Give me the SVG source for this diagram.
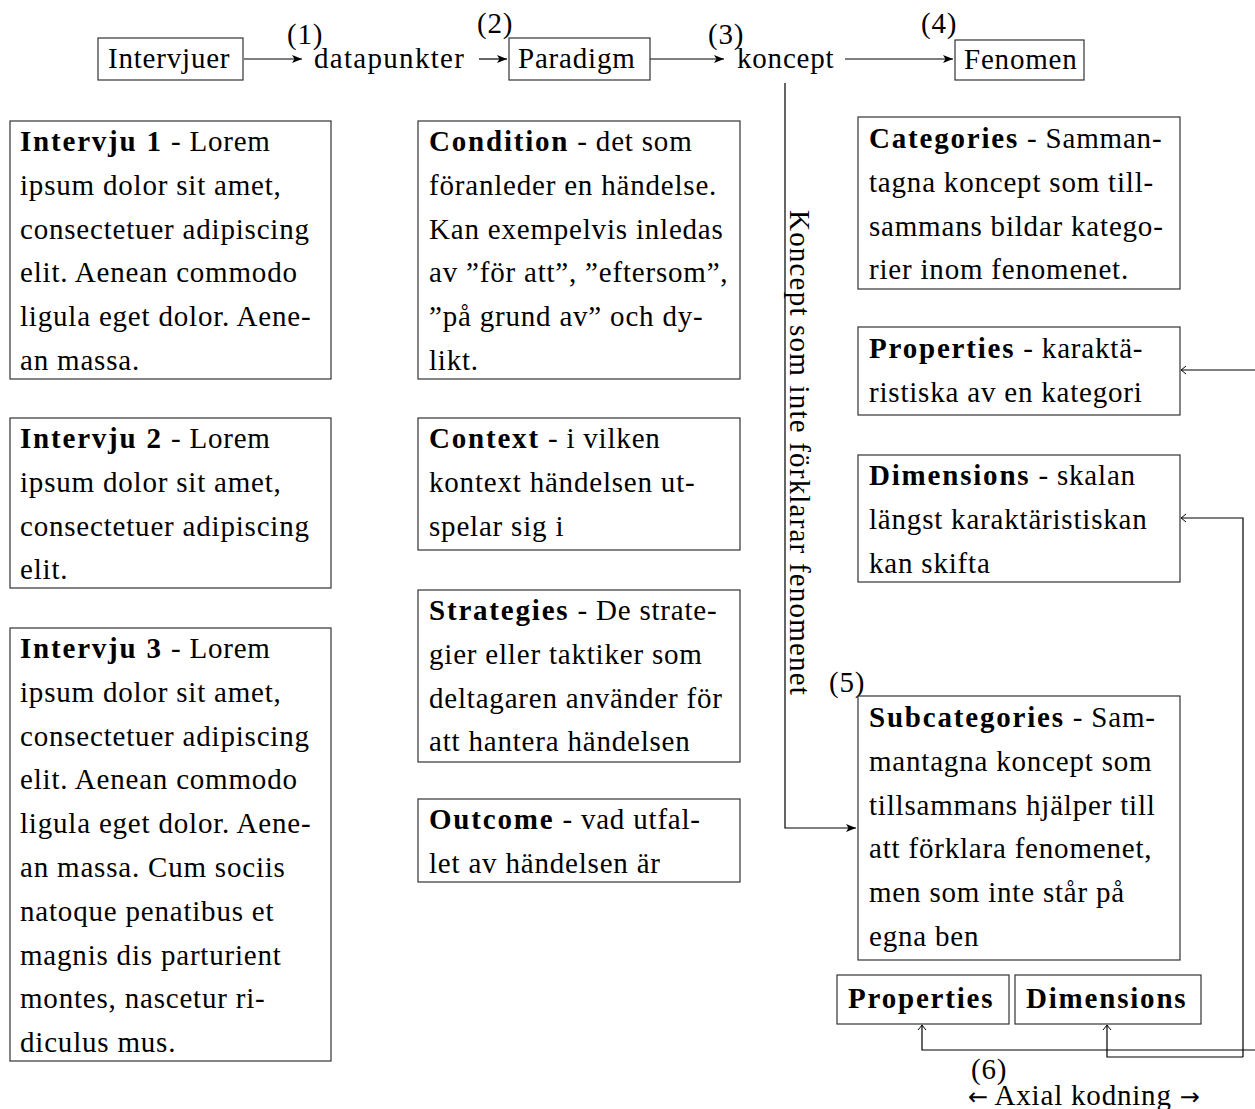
<svg xmlns="http://www.w3.org/2000/svg" width="1255" height="1109" viewBox="0 0 1255 1109" font-family="'Liberation Serif', 'DejaVu Serif', serif">
<style>
text{font-family:'Liberation Serif','DejaVu Serif',serif;font-size:29px;letter-spacing:0.8px;fill:#000}
.b{font-weight:bold;letter-spacing:1.8px}
.ar{font-family:'DejaVu Sans',sans-serif;font-size:24px;letter-spacing:0}
.box{fill:#fff;stroke:#333;stroke-width:1.2}
.ln{fill:none;stroke:#000;stroke-width:1.2}
.f{marker-end:url(#tri)}
.h{marker-end:url(#hook)}
</style>
<defs>
<marker id="tri" viewBox="0 0 10 8" refX="10" refY="4" markerWidth="10" markerHeight="8" markerUnits="userSpaceOnUse" orient="auto"><path d="M0,0 L10,4 L0,8 L2.5,4 z" fill="#000"/></marker>
<marker id="hook" viewBox="-7 -5 8 10" refX="0" refY="0" markerWidth="8" markerHeight="10" markerUnits="userSpaceOnUse" orient="auto"><path d="M-5,-4 Q-1.5,-1 0,0 Q-1.5,1 -5,4" fill="none" stroke="#000" stroke-width="1"/></marker>
</defs>
<rect width="1255" height="1109" fill="#fff"/>

<g id="connectors">
<path class="ln f" d="M244,59 L302,59"/>
<path class="ln f" d="M479,59 L507,59"/>
<path class="ln f" d="M650,59 L724,59"/>
<path class="ln f" d="M845,59 L953,59"/>
<path class="ln f" d="M785,83 L785,828 L856,828"/>
<path class="ln h" d="M1255,370 L1181,370"/>
<path class="ln h" d="M1243,1057 L1243,518 L1181,518"/>
<path class="ln h" d="M1243,1057 L1107,1057 L1107,1025"/>
<path class="ln h" d="M1255,1050 L922,1050 L922,1025"/>
<text transform="translate(790,210) rotate(90)" style="letter-spacing:1.2px">Koncept som inte förklarar fenomenet</text>
<text x="287" y="44">(1)</text>
<text x="477" y="33">(2)</text>
<text x="708" y="44">(3)</text>
<text x="921" y="33">(4)</text>
<text x="829" y="692">(5)</text>
<text x="971" y="1079">(6)</text>
<text x="968" y="1105"><tspan class="ar">←</tspan> Axial kodning <tspan class="ar">→</tspan></text>
</g>

<g id="intervjuer"><rect class="box" x="98" y="38" width="145" height="42"/><text x="108" y="68">Intervjuer</text></g>
<g id="datapunkter"><text x="314" y="68" style="letter-spacing:1.3px">datapunkter</text></g>
<g id="paradigm"><rect class="box" x="509" y="38" width="141" height="42"/><text x="518" y="68">Paradigm</text></g>
<g id="koncept"><text x="737" y="68">koncept</text></g>
<g id="fenomen"><rect class="box" x="955" y="40" width="129" height="40"/><text x="964" y="69">Fenomen</text></g>

<g id="intervju1"><rect class="box" x="10" y="121" width="321" height="258"/>
<text x="20" y="151"><tspan class="b">Intervju 1</tspan> - Lorem</text>
<text x="20" y="194.8">ipsum dolor sit amet,</text>
<text x="20" y="238.6">consectetuer adipiscing</text>
<text x="20" y="282.4">elit. Aenean commodo</text>
<text x="20" y="326.2">ligula eget dolor. Aene-</text>
<text x="20" y="370">an massa.</text></g>

<g id="intervju2"><rect class="box" x="10" y="418" width="321" height="170"/>
<text x="20" y="448"><tspan class="b">Intervju 2</tspan> - Lorem</text>
<text x="20" y="491.8">ipsum dolor sit amet,</text>
<text x="20" y="535.6">consectetuer adipiscing</text>
<text x="20" y="579.4">elit.</text></g>

<g id="intervju3"><rect class="box" x="10" y="628" width="321" height="433"/>
<text x="20" y="658"><tspan class="b">Intervju 3</tspan> - Lorem</text>
<text x="20" y="701.8">ipsum dolor sit amet,</text>
<text x="20" y="745.6">consectetuer adipiscing</text>
<text x="20" y="789.4">elit. Aenean commodo</text>
<text x="20" y="833.2">ligula eget dolor. Aene-</text>
<text x="20" y="877">an massa. Cum sociis</text>
<text x="20" y="920.8">natoque penatibus et</text>
<text x="20" y="964.6">magnis dis parturient</text>
<text x="20" y="1008.4">montes, nascetur ri-</text>
<text x="20" y="1052.2">diculus mus.</text></g>

<g id="condition"><rect class="box" x="418" y="121" width="322" height="258"/>
<text x="429" y="151"><tspan class="b">Condition</tspan> - det som</text>
<text x="429" y="194.8">föranleder en händelse.</text>
<text x="429" y="238.6">Kan exempelvis inledas</text>
<text x="429" y="282.4">av ”för att”, ”eftersom”,</text>
<text x="429" y="326.2">”på grund av” och dy-</text>
<text x="429" y="370">likt.</text></g>

<g id="context"><rect class="box" x="418" y="418" width="322" height="132"/>
<text x="429" y="448"><tspan class="b">Context</tspan> - i vilken</text>
<text x="429" y="491.8">kontext händelsen ut-</text>
<text x="429" y="535.6">spelar sig i</text></g>

<g id="strategies"><rect class="box" x="418" y="590" width="322" height="172"/>
<text x="429" y="620"><tspan class="b">Strategies</tspan> - De strate-</text>
<text x="429" y="663.8">gier eller taktiker som</text>
<text x="429" y="707.6">deltagaren använder för</text>
<text x="429" y="751.4">att hantera händelsen</text></g>

<g id="outcome"><rect class="box" x="418" y="799" width="322" height="83"/>
<text x="429" y="829"><tspan class="b">Outcome</tspan> - vad utfal-</text>
<text x="429" y="872.8">let av händelsen är</text></g>

<g id="categories"><rect class="box" x="858" y="117" width="322" height="172"/>
<text x="869" y="148"><tspan class="b">Categories</tspan> - Samman-</text>
<text x="869" y="191.8">tagna koncept som till-</text>
<text x="869" y="235.6">sammans bildar katego-</text>
<text x="869" y="279.4">rier inom fenomenet.</text></g>

<g id="properties"><rect class="box" x="858" y="327" width="322" height="88"/>
<text x="869" y="358"><tspan class="b">Properties</tspan> - karaktä-</text>
<text x="869" y="401.8">ristiska av en kategori</text></g>

<g id="dimensions"><rect class="box" x="858" y="455" width="322" height="127"/>
<text x="869" y="485"><tspan class="b">Dimensions</tspan> - skalan</text>
<text x="869" y="528.8">längst karaktäristiskan</text>
<text x="869" y="572.6">kan skifta</text></g>

<g id="subcategories"><rect class="box" x="858" y="696" width="322" height="264"/>
<text x="869" y="727"><tspan class="b">Subcategories</tspan> - Sam-</text>
<text x="869" y="770.8">mantagna koncept som</text>
<text x="869" y="814.6">tillsammans hjälper till</text>
<text x="869" y="858.4">att förklara fenomenet,</text>
<text x="869" y="902.2">men som inte står på</text>
<text x="869" y="946">egna ben</text></g>

<g id="properties2"><rect class="box" x="837" y="975" width="172" height="49"/><text class="b" x="848" y="1008">Properties</text></g>
<g id="dimensions2"><rect class="box" x="1015" y="975" width="186" height="49"/><text class="b" x="1026" y="1008">Dimensions</text></g>
</svg>
